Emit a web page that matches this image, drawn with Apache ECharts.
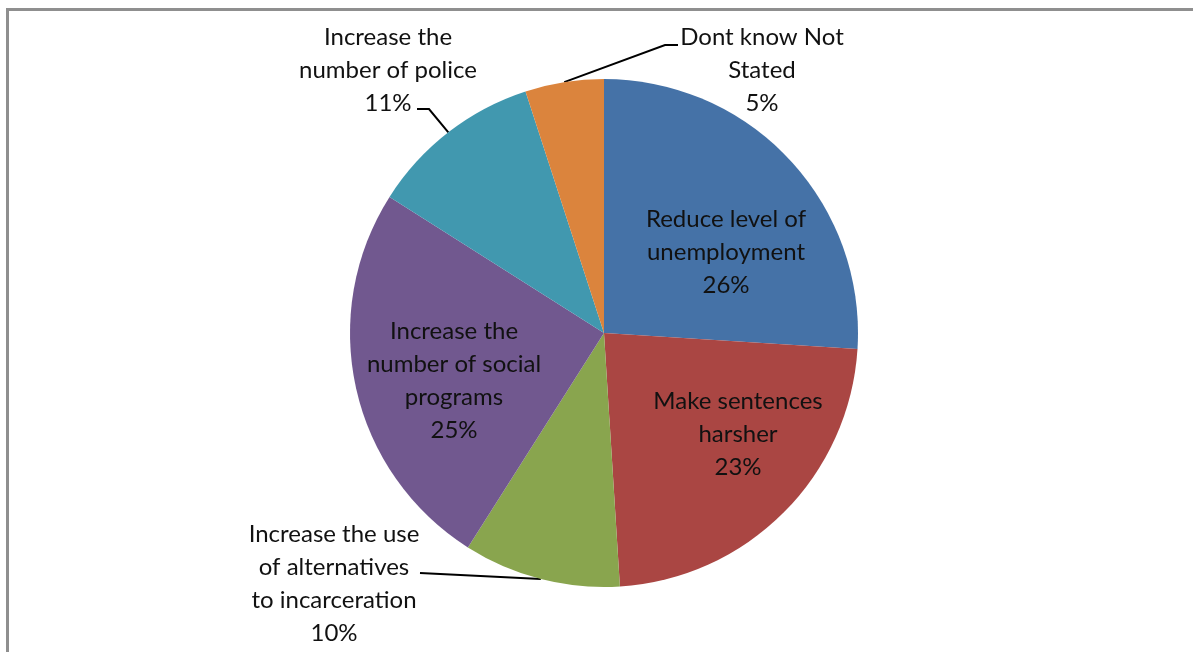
<!DOCTYPE html>
<html>
<head>
<meta charset="utf-8">
<script src="https://cdn.jsdelivr.net/npm/echarts@6/dist/echarts.min.js"></script>
<style>
  html, body { margin: 0; padding: 0; background: #fff; }
  #chart { width: 1193px; height: 652px; }
</style>
</head>
<body>
<div id="chart"></div>
<script>
// Survey answers: what would most reduce crime
const categories = [
  'Reduce level of\nunemployment',
  'Make sentences\nharsher',
  'Increase the use\nof alternatives\nto incarceration',
  'Increase the\nnumber of social\nprograms',
  'Increase the\nnumber of police',
  'Dont know Not\nStated'
];
const shares = [26, 23, 10, 25, 11, 5];

const sliceColors = ['#4572A7', '#AA4643', '#89A54E', '#71588F', '#4198AF', '#DB843D'];

// Where each label sits (pixel centre) and, for the outside ones,
// the bend and end of the leader line next to the text.
const labelSpots = [
  { x: 726, y: 252 },
  { x: 738, y: 434 },
  { x: 334, y: 584, leader: [[420, 573]] },
  { x: 454, y: 381 },
  { x: 388, y: 70,  leader: [[429, 109], [417, 109]] },
  { x: 762, y: 70,  leader: [[665, 45], [678, 45]] }
];
const outside = { 2: true, 4: true, 5: true };

const chart = echarts.init(document.getElementById('chart'), null, { renderer: 'canvas' });

const data = categories.map((name, i) => ({
  name: name,
  value: shares[i],
  itemStyle: { color: sliceColors[i] },
  label: { position: outside[i] ? 'outside' : 'inside' },
  labelLine: { show: !!outside[i] }
}));

chart.setOption({
  animation: false,
  backgroundColor: '#ffffff',
  graphic: [{
    // frame: only the left and top edges fall inside the view
    type: 'polyline',
    shape: { points: [[7.5, 660], [7.5, 9.5], [1200, 9.5]] },
    style: { fill: null, stroke: '#8f8f8f', lineWidth: 3 },
    silent: true
  }],
  series: [{
    type: 'pie',
    center: [604, 333],
    radius: [0, 254],
    startAngle: 90,
    clockwise: true,
    avoidLabelOverlap: false,
    data: data,
    itemStyle: { borderWidth: 0 },
    emphasis: { disabled: true },
    label: {
      formatter: '{b}\n{c}%',
      fontFamily: 'Lato, "Open Sans", sans-serif',
      fontSize: 24,
      lineHeight: 33,
      color: '#111',
      align: 'center'
    },
    labelLine: {
      length: 20,
      length2: 10,
      lineStyle: { color: '#000', width: 2 }
    },
    labelLayout: function (p) {
      const spot = labelSpots[p.dataIndex];
      const res = { x: spot.x, y: spot.y, align: 'center', verticalAlign: 'middle' };
      if (spot.leader && p.labelLinePoints) {
        const start = p.labelLinePoints[0];
        res.labelLinePoints = [start].concat(spot.leader);
      }
      return res;
    }
  }]
});
</script>
</body>
</html>
